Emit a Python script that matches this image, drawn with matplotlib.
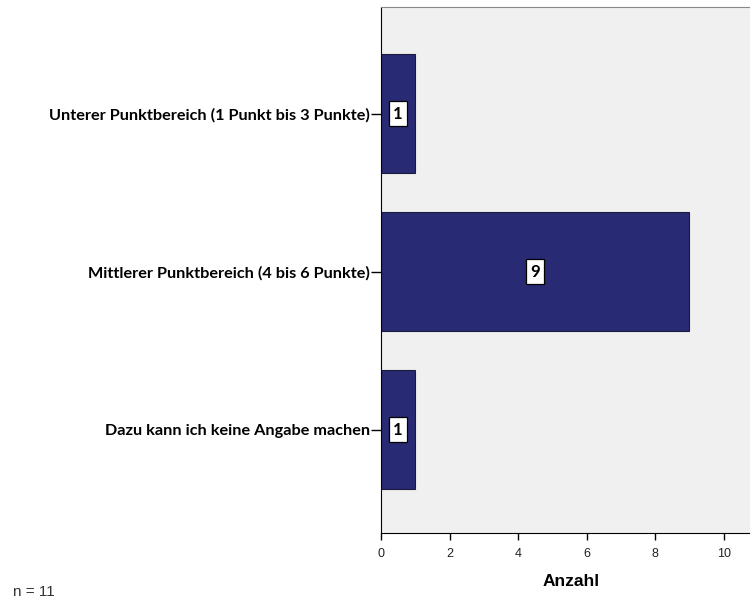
import matplotlib.pyplot as plt

categories = [
    "Unterer Punktbereich (1 Punkt bis 3 Punkte)",
    "Mittlerer Punktbereich (4 bis 6 Punkte)",
    "Dazu kann ich keine Angabe machen",
]
counts = [1, 9, 1]
x_ticks = [0, 2, 4, 6, 8, 10]

fig = plt.figure(figsize=(7.5, 5.99), dpi=100)
# the axes runs a little past the right edge of the figure
ax = fig.add_axes([0.508, 0.1102, 0.508, 0.8781])
ax.set_facecolor("#f0f0f0")

pos = list(range(len(categories)))
ax.barh(pos, counts, height=0.753, color="#282a74", edgecolor="#1a1a3a", linewidth=0.8)

# value boxes in the middle of each bar
for p, c in zip(pos, counts):
    ax.text(c / 2, p, str(c), ha="center", va="center", fontsize=12,
            fontweight="bold", family="Lato",
            bbox=dict(boxstyle="square,pad=0.25", fc="white", ec="black", lw=0.9))

ax.set_xlim(0, 11.12)
ax.set_ylim(2.655, -0.674)
ax.set_yticks(pos)
ax.set_yticklabels(categories, fontsize=11.7, fontweight="bold", family="Lato")
ax.set_xticks(x_ticks)
ax.set_xticklabels([str(t) for t in x_ticks], fontsize=9, family="Liberation Sans", color="#222222")
ax.tick_params(axis="y", length=7, width=1, pad=1)
ax.tick_params(axis="x", length=5, width=1, pad=6)

ax.spines["left"].set_color("black")
ax.spines["bottom"].set_color("black")
ax.spines["top"].set_color("#888888")
ax.spines["right"].set_visible(False)

ax.set_xlabel("Anzahl", fontsize=12.5, fontweight="bold", family="Liberation Sans", labelpad=10)

fig.text(0.018, 0.005, "n = 11", fontsize=11, family="Liberation Sans",
         color="#333333", va="baseline")

fig.savefig("out.png", dpi=100)
